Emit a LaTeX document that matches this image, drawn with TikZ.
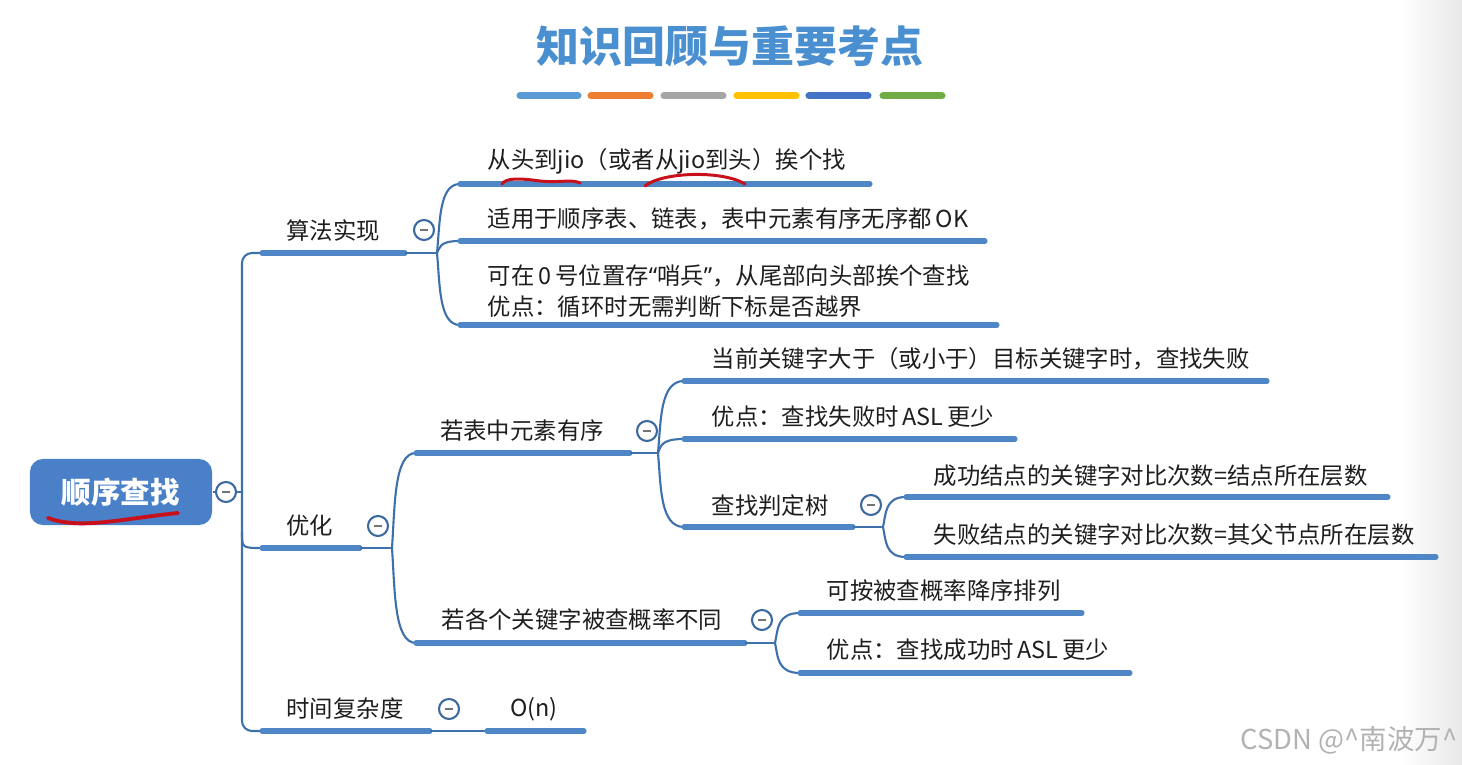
\documentclass[tikz,border=0pt]{standalone}
\usepackage{fontspec}
\setmainfont{Noto Sans CJK SC}
\newfontfamily\latinf{Noto Sans}
\usetikzlibrary{calc}
\definecolor{ulblue}{HTML}{4F86C6}
\definecolor{cnblue}{HTML}{3E70AC}
\definecolor{ttblue}{HTML}{4A8FD0}
\definecolor{rootblue}{HTML}{4A80C8}
\definecolor{foldring}{HTML}{3D6A9E}
\definecolor{txtgray}{HTML}{1E1E1E}
\definecolor{pen}{HTML}{C8101A}
\definecolor{barA}{HTML}{5B9BD5}
\definecolor{barB}{HTML}{ED7D31}
\definecolor{barC}{HTML}{A5A5A5}
\definecolor{barD}{HTML}{FFC000}
\definecolor{barE}{HTML}{4472C4}
\definecolor{barF}{HTML}{70AD47}
\newcommand\fsz{\fontsize{6.65}{9}\selectfont}
\newcommand\mmcurve[2]{\draw[conn] (#1) .. controls ($(#1)!0.45!(#1 |- #2) + (3,0)$) and ($(#1 |- #2) + (2,0)$) .. (#2);}
\begin{document}
\begin{tikzpicture}[x=0.01cm,y=-0.01cm,
  txt/.style={font=\fsz, text=txtgray, inner sep=0pt, anchor=west},
  ctxt/.style={font=\fsz, text=txtgray, inner sep=0pt},
  uline/.style={draw=ulblue, line width=1.45pt, line cap=round},
  conn/.style={draw=cnblue, line width=0.6pt},
  fold/.style={circle, draw=foldring, line width=0.6pt, fill=white, minimum size=0.2cm, inner sep=0pt,
    path picture={\draw[black!55, line width=0.5pt] ([xshift=-0.04cm]path picture bounding box.center) -- ([xshift=0.04cm]path picture bounding box.center);}},
  bar/.style={line width=2pt, line cap=round},
  penline/.style={draw=pen, line width=0.85pt, line cap=round, line join=round}
]
\useasboundingbox (0,0) rectangle (1462,765);
\shade[left color=white, right color=black!9] (1400,0) rectangle (1462,765);

% title
\node[font=\fontsize{12.2}{14}\selectfont\bfseries, text=ttblue, inner sep=0pt] (title) at (730,46) {知识回顾与重要考点};
\coordinate (b1s) at (520,96); \coordinate (b1e) at (578,96);
\coordinate (b2s) at (591,96); \coordinate (b2e) at (650,96);
\coordinate (b3s) at (664,96); \coordinate (b3e) at (723,96);
\coordinate (b4s) at (737,96); \coordinate (b4e) at (796,96);
\coordinate (b5s) at (809,96); \coordinate (b5e) at (868,96);
\coordinate (b6s) at (883,96); \coordinate (b6e) at (942,96);
\draw[bar, barA] (b1s) -- (b1e);
\draw[bar, barB] (b2s) -- (b2e);
\draw[bar, barC] (b3s) -- (b3e);
\draw[bar, barD] (b4s) -- (b4e);
\draw[bar, barE] (b5s) -- (b5e);
\draw[bar, barF] (b6s) -- (b6e);

% root
\node[fill=rootblue, rounded corners=0.13cm, minimum width=1.82cm, minimum height=0.66cm, inner sep=0pt,
  font=\fontsize{8.4}{10}\selectfont\bfseries, text=white] (root) at (121,492) {顺序查找};
\node[fold] (froot) at (226,492) {};
\coordinate (trunkR) at (242,492);
\draw[conn] (root.east) -- (froot) -- (trunkR);

% trunk and level-1 branches
\coordinate (a1s) at (262,253); \coordinate (a1e) at (405,253); \coordinate (a1j) at (437,253);
\coordinate (a2s) at (262,548); \coordinate (a2e) at (360,548); \coordinate (a2j) at (392,548);
\coordinate (a3s) at (262,731); \coordinate (a3e) at (430,731);
\coordinate (trunkT) at (242,253); \coordinate (trunkB) at (242,731);
\coordinate (trunkM) at (242,532);
\draw[conn, rounded corners=0.1cm] (a1s) -- (trunkT) -- (trunkB) -- (a3s);
\draw[conn] (trunkM) .. controls (242,548) .. (a2s);

\node[ctxt] (n1) at (333,231) {算法实现};
\draw[uline] (a1s) -- (a1e);
\draw[conn] (a1e) -- (a1j);
\node[fold] (f1) at (424,230) {};

\node[ctxt] (n2) at (310,526) {优化};
\draw[uline] (a2s) -- (a2e);
\draw[conn] (a2e) -- (a2j);
\node[fold] (f2) at (378,526) {};

\node[ctxt] (n3) at (345,709) {时间复杂度};
\draw[uline] (a3s) -- (a3e);
\node[fold] (f3) at (449,709) {};
\coordinate (ons) at (487,731); \coordinate (one) at (584,731);
\draw[conn] (a3e) -- (ons);
\draw[uline] (ons) -- (one);
\node[ctxt] (on) at (534,709) {O(n)};

% children of 算法实现
\coordinate (c11s) at (460,184); \coordinate (c11e) at (870,184);
\coordinate (c12s) at (460,241); \coordinate (c12e) at (985,241);
\coordinate (c13s) at (460,325); \coordinate (c13e) at (997,325);
\mmcurve{a1j}{c11s}\mmcurve{a1j}{c12s}\mmcurve{a1j}{c13s}
\draw[uline] (c11s) -- (c11e);
\draw[uline] (c12s) -- (c12e);
\draw[uline] (c13s) -- (c13e);
\node[txt] (t11) at (487,161) {从头到jio（或者从jio到头）挨个找};
\node[txt] (t12) at (487,219) {适用于顺序表、链表，表中元素有序无序都\,OK};
\node[txt, align=left] (t13) at (487,291) {可在\,0\,号位置存{\latinf “}哨兵{\latinf ”}，从尾部向头部挨个查找\\优点：循环时无需判断下标是否越界};

% children of 优化
\coordinate (c21s) at (416,453); \coordinate (c21e) at (630,453); \coordinate (c21j) at (658,453);
\coordinate (c22s) at (416,643); \coordinate (c22e) at (745,643); \coordinate (c22j) at (775,643);
\mmcurve{a2j}{c21s}\mmcurve{a2j}{c22s}
\draw[uline] (c21s) -- (c21e);
\draw[conn] (c21e) -- (c21j);
\draw[uline] (c22s) -- (c22e);
\draw[conn] (c22e) -- (c22j);
\node[ctxt] (t21) at (522,431) {若表中元素有序};
\node[fold] (f21) at (647,431) {};
\node[txt] (t22) at (441,620) {若各个关键字被查概率不同};
\node[fold] (f22) at (762,620) {};

% children of 若表中元素有序
\coordinate (d1s) at (684,381); \coordinate (d1e) at (1267,381);
\coordinate (d2s) at (684,439); \coordinate (d2e) at (1015,439);
\coordinate (d3s) at (684,527); \coordinate (d3e) at (853,527); \coordinate (d3j) at (883,527);
\mmcurve{c21j}{d1s}\mmcurve{c21j}{d2s}\mmcurve{c21j}{d3s}
\draw[uline] (d1s) -- (d1e);
\draw[uline] (d2s) -- (d2e);
\draw[uline] (d3s) -- (d3e);
\draw[conn] (d3e) -- (d3j);
\node[txt] (u1) at (711,359) {当前关键字大于（或小于）目标关键字时，查找失败};
\node[txt] (u2) at (711,417) {优点：查找失败时\,ASL\,更少};
\node[txt] (u3) at (711,506) {查找判定树};
\node[fold] (f3b) at (871,505) {};

% children of 查找判定树
\coordinate (e1s) at (906,497); \coordinate (e1e) at (1388,497);
\coordinate (e2s) at (906,557); \coordinate (e2e) at (1436,557);
\mmcurve{d3j}{e1s}\mmcurve{d3j}{e2s}
\draw[uline] (e1s) -- (e1e);
\draw[uline] (e2s) -- (e2e);
\node[txt] (v1) at (933,476) {成功结点的关键字对比次数=结点所在层数};
\node[txt] (v2) at (933,535) {失败结点的关键字对比次数=其父节点所在层数};

% children of 若各个关键字被查概率不同
\coordinate (g1s) at (800,613); \coordinate (g1e) at (1082,613);
\coordinate (g2s) at (800,673); \coordinate (g2e) at (1130,673);
\mmcurve{c22j}{g1s}\mmcurve{c22j}{g2s}
\draw[uline] (g1s) -- (g1e);
\draw[uline] (g2s) -- (g2e);
\node[txt] (w1) at (826,591) {可按被查概率降序排列};
\node[txt] (w2) at (826,650) {优点：查找成功时\,ASL\,更少};

% hand-drawn red marks
\draw[penline, line width=1.1pt] (48,518) .. controls (80,530) and (120,519) .. (178,513);
\draw[penline] (502,184) .. controls (506,178) and (518,178) .. (540,181) .. controls (560,183) and (572,179) .. (580,183);
\draw[penline] (645,186) .. controls (662,172) and (722,170) .. (745,184);

% watermark
\node[font=\fontsize{7.8}{9}\selectfont, text=black!30, inner sep=0pt, anchor=east] (wm) at (1458,740) {CSDN @\textasciicircum 南波万\textasciicircum};
\end{tikzpicture}
\end{document}
